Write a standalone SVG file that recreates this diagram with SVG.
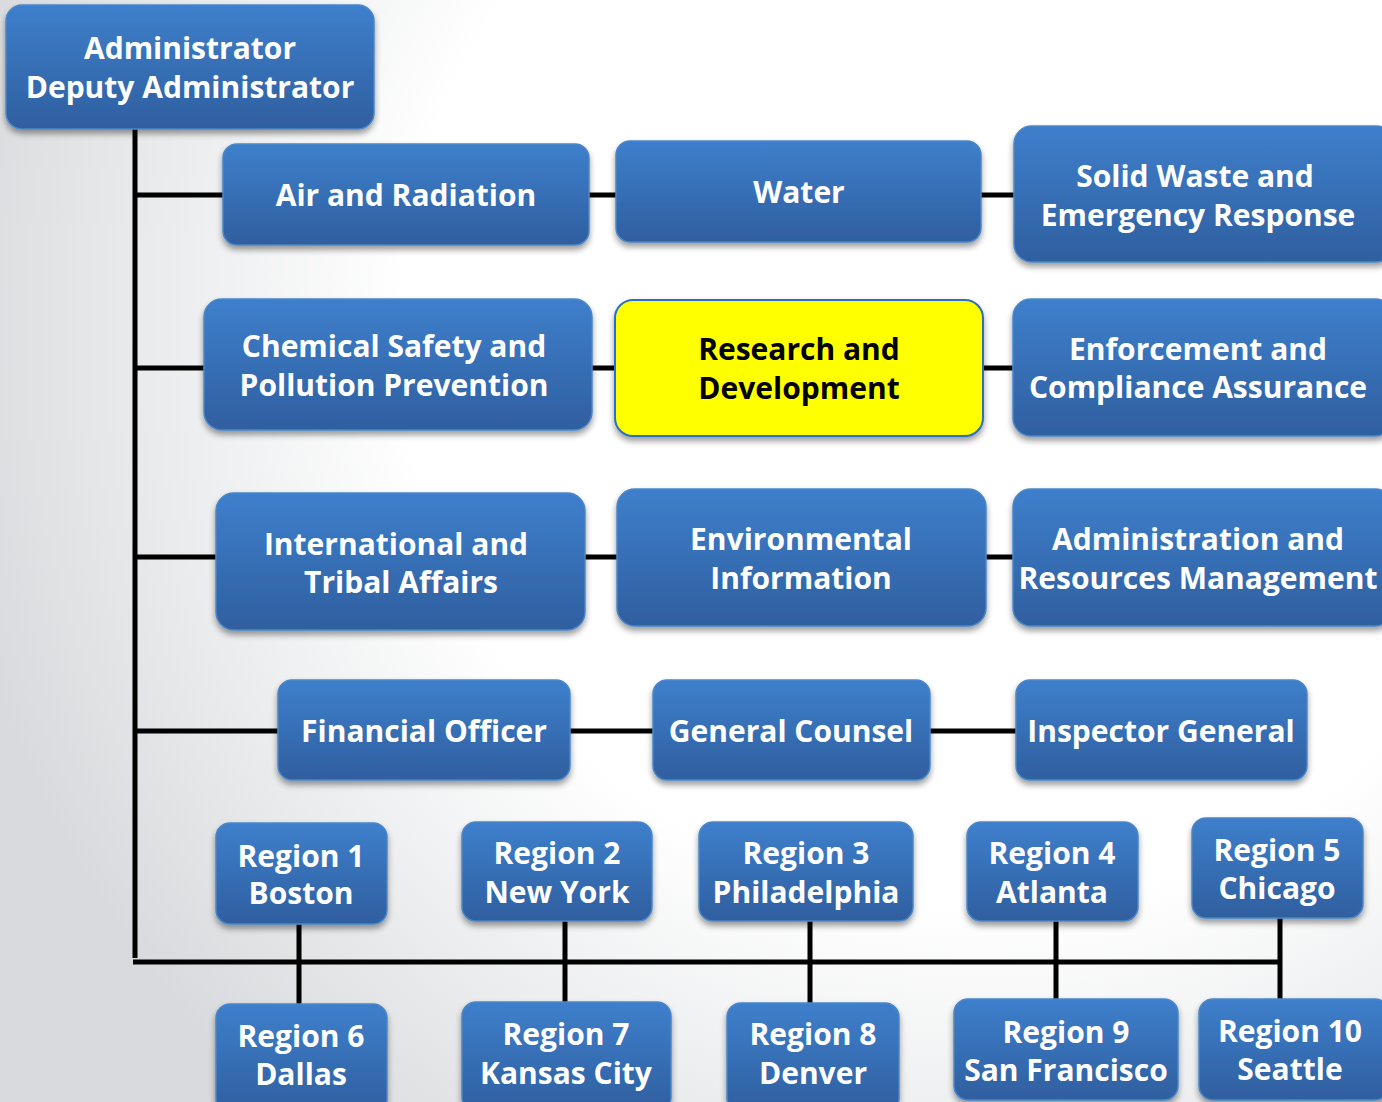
<svg xmlns="http://www.w3.org/2000/svg" width="1382" height="1102" viewBox="0 0 1382 1102">
<defs>
<radialGradient id="bg" cx="980" cy="330" r="1050" gradientUnits="userSpaceOnUse">
<stop offset="0" stop-color="#ffffff"/>
<stop offset="0.55" stop-color="#ffffff"/>
<stop offset="1" stop-color="#d8dadd"/>
</radialGradient>
<linearGradient id="blue" x1="0" y1="0" x2="0" y2="1">
<stop offset="0" stop-color="#3e7fcc"/>
<stop offset="1" stop-color="#2f5f9f"/>
</linearGradient>
<filter id="sh" x="-10%" y="-10%" width="120%" height="130%">
<feGaussianBlur in="SourceAlpha" stdDeviation="3"/>
<feOffset dy="4" result="b"/>
<feComponentTransfer><feFuncA type="linear" slope="0.4"/></feComponentTransfer>
<feMerge><feMergeNode/><feMergeNode in="SourceGraphic"/></feMerge>
</filter>
</defs>
<style>
.box{fill:url(#blue);stroke:#4a86c8;stroke-width:1.5;filter:url(#sh)}
.hl{fill:#ffff00;stroke:#2a6fc0;stroke-width:2;filter:url(#sh)}
.t{font-family:"Open Sans","Liberation Sans",sans-serif;font-weight:bold;font-size:30px;fill:#ffffff;text-anchor:middle}
.tk{fill:#000000}
.c{stroke:#000;stroke-width:5;fill:none}
</style>
<rect x="0" y="0" width="1382" height="1102" fill="url(#bg)"/>
<g id="connectors">
<line class="c" x1="135" y1="129" x2="135" y2="958"/>
<line class="c" x1="133" y1="962" x2="1282" y2="962"/>
<line class="c" x1="135" y1="195" x2="1014" y2="195"/>
<line class="c" x1="135" y1="368" x2="1013" y2="368"/>
<line class="c" x1="135" y1="557" x2="1013" y2="557"/>
<line class="c" x1="135" y1="731" x2="1016" y2="731"/>
<line class="c" x1="299" y1="924" x2="299" y2="1004"/>
<line class="c" x1="565" y1="921" x2="565" y2="1002"/>
<line class="c" x1="810" y1="921" x2="810" y2="1003"/>
<line class="c" x1="1056" y1="921" x2="1056" y2="999"/>
<line class="c" x1="1280" y1="918" x2="1280" y2="999"/>
</g>
<g id="admin"><rect class="box" x="6" y="5" width="368" height="124" rx="16"/><text class="t" x="190" y="59">Administrator</text><text class="t" x="190" y="98">Deputy Administrator</text></g>
<g id="air"><rect class="box" x="223" y="144" width="366" height="101" rx="14"/><text class="t" x="406" y="206">Air and Radiation</text></g>
<g id="water"><rect class="box" x="616" y="141" width="365" height="101" rx="14"/><text class="t" x="799" y="203">Water</text></g>
<g id="solidwaste"><rect class="box" x="1014" y="126" width="380" height="136" rx="18"/><text class="t" x="1195" y="187">Solid Waste and</text><text class="t" x="1198" y="226">Emergency Response</text></g>
<g id="chemical"><rect class="box" x="204" y="299" width="388" height="131" rx="18"/><text class="t" x="394" y="357">Chemical Safety and</text><text class="t" x="394" y="396">Pollution Prevention</text></g>
<g id="research"><rect class="hl" x="615" y="300" width="368" height="136" rx="18"/><text class="t tk" x="799" y="360">Research and</text><text class="t tk" x="799" y="399">Development</text></g>
<g id="enforcement"><rect class="box" x="1013" y="299" width="380" height="137" rx="18"/><text class="t" x="1198" y="360">Enforcement and</text><text class="t" x="1198" y="398">Compliance Assurance</text></g>
<g id="international"><rect class="box" x="216" y="493" width="369" height="137" rx="18"/><text class="t" x="396" y="555">International and</text><text class="t" x="401" y="593">Tribal Affairs</text></g>
<g id="envinfo"><rect class="box" x="617" y="489" width="369" height="137" rx="18"/><text class="t" x="801" y="550">Environmental</text><text class="t" x="801" y="589">Information</text></g>
<g id="adminres"><rect class="box" x="1013" y="489" width="380" height="137" rx="18"/><text class="t" x="1198" y="550">Administration and</text><text class="t" x="1198" y="589">Resources Management</text></g>
<g id="financial"><rect class="box" x="278" y="680" width="292" height="100" rx="14"/><text class="t" x="424" y="742">Financial Officer</text></g>
<g id="counsel"><rect class="box" x="653" y="680" width="277" height="100" rx="14"/><text class="t" x="791" y="742">General Counsel</text></g>
<g id="inspector"><rect class="box" x="1016" y="680" width="291" height="100" rx="14"/><text class="t" x="1161" y="742">Inspector General</text></g>
<g id="region1"><rect class="box" x="216" y="823" width="171" height="101" rx="14"/><text class="t" x="301" y="867">Region 1</text><text class="t" x="301" y="904">Boston</text></g>
<g id="region2"><rect class="box" x="462" y="822" width="190" height="99" rx="14"/><text class="t" x="557" y="864">Region 2</text><text class="t" x="557" y="903">New York</text></g>
<g id="region3"><rect class="box" x="699" y="822" width="214" height="99" rx="14"/><text class="t" x="806" y="864">Region 3</text><text class="t" x="806" y="903">Philadelphia</text></g>
<g id="region4"><rect class="box" x="967" y="822" width="171" height="99" rx="14"/><text class="t" x="1052" y="864">Region 4</text><text class="t" x="1052" y="903">Atlanta</text></g>
<g id="region5"><rect class="box" x="1192" y="818" width="171" height="100" rx="14"/><text class="t" x="1277" y="861">Region 5</text><text class="t" x="1277" y="899">Chicago</text></g>
<g id="region6"><rect class="box" x="216" y="1004" width="171" height="110" rx="14"/><text class="t" x="301" y="1047">Region 6</text><text class="t" x="301" y="1085">Dallas</text></g>
<g id="region7"><rect class="box" x="462" y="1002" width="209" height="110" rx="14"/><text class="t" x="566" y="1045">Region 7</text><text class="t" x="566" y="1084">Kansas City</text></g>
<g id="region8"><rect class="box" x="727" y="1003" width="172" height="110" rx="14"/><text class="t" x="813" y="1045">Region 8</text><text class="t" x="813" y="1084">Denver</text></g>
<g id="region9"><rect class="box" x="954" y="999" width="224" height="101" rx="14"/><text class="t" x="1066" y="1043">Region 9</text><text class="t" x="1066" y="1081">San Francisco</text></g>
<g id="region10"><rect class="box" x="1199" y="999" width="190" height="101" rx="14"/><text class="t" x="1290" y="1042">Region 10</text><text class="t" x="1290" y="1080">Seattle</text></g>
</svg>
